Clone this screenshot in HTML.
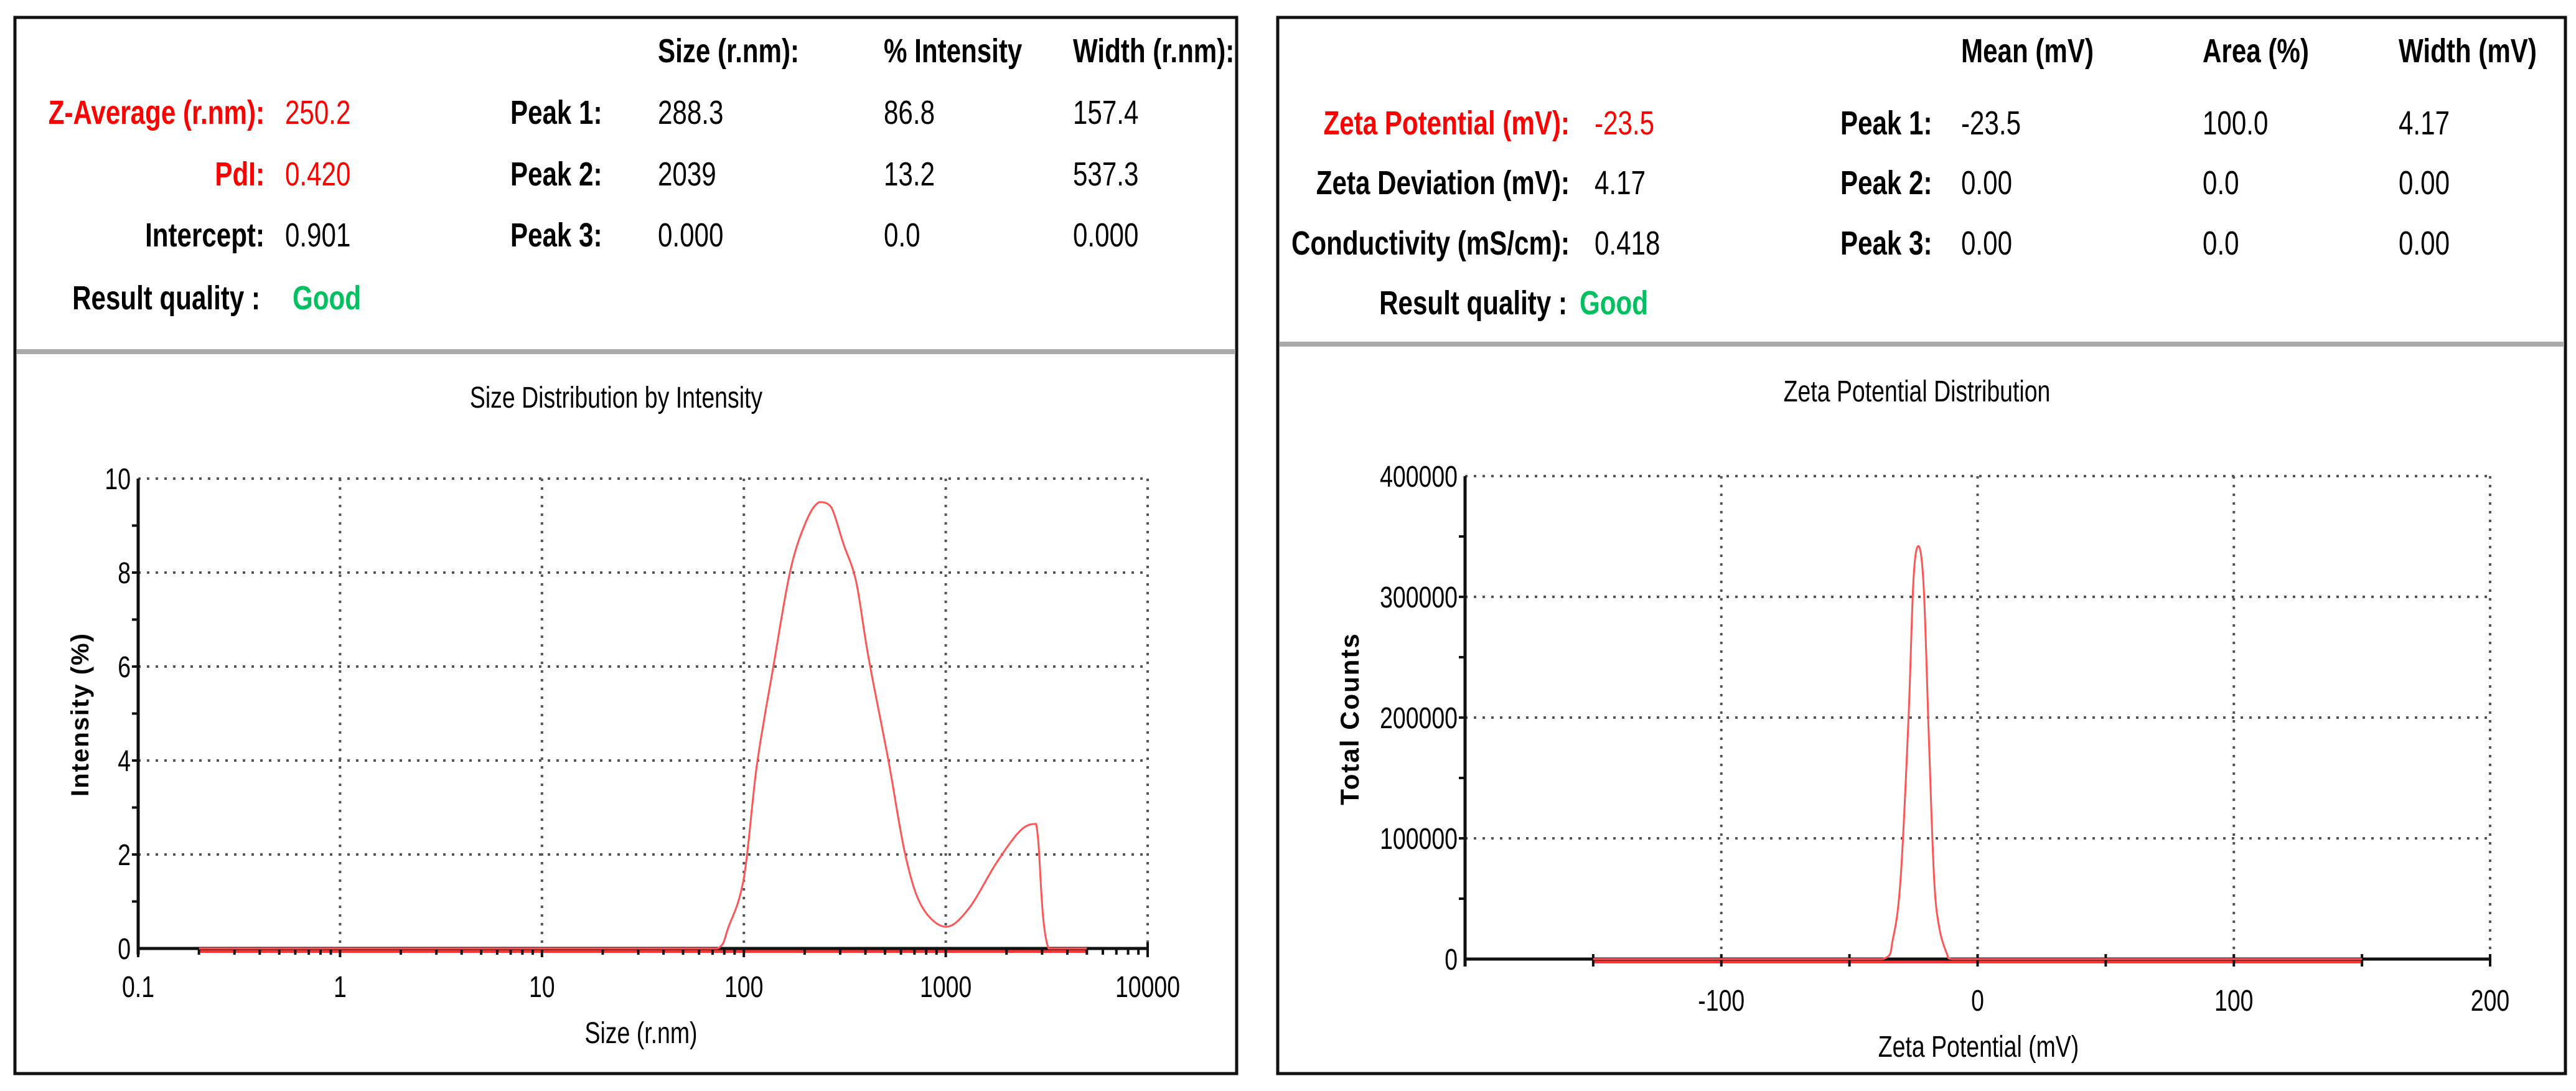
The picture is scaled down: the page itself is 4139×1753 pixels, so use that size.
<!DOCTYPE html>
<html><head><meta charset="utf-8"><style>
html,body{margin:0;padding:0;background:#fff;}
svg{display:block;font-family:"Liberation Sans",Arial,sans-serif;}
.b{font-weight:bold;}
</style></head><body>
<svg id="s" width="4139" height="1753" viewBox="0 0 4139 1753" xmlns="http://www.w3.org/2000/svg">
<rect x="0" y="0" width="4139" height="1753" fill="#fff"/>
<rect x="24" y="28" width="1963" height="1697" fill="none" stroke="#111" stroke-width="5"/>
<rect x="2053" y="28" width="2069" height="1697" fill="none" stroke="#111" stroke-width="5"/>
<rect x="27" y="561" width="1958" height="8" fill="#aaa"/>
<rect x="2056" y="549" width="2064" height="8" fill="#aaa"/>

<g font-size="54">
<text class="c b" x="1057" y="100">Size (r.nm):</text>
<text class="c b" x="1420" y="100">% Intensity</text>
<text class="c b" x="1724" y="100">Width (r.nm):</text>
<text class="c b" x="425" y="199" text-anchor="end" fill="#f00">Z-Average (r.nm):</text>
<text class="c" x="458" y="199" fill="#f00">250.2</text>
<text class="c b" x="425" y="298" text-anchor="end" fill="#f00">PdI:</text>
<text class="c" x="458" y="298" fill="#f00">0.420</text>
<text class="c b" x="425" y="396" text-anchor="end">Intercept:</text>
<text class="c" x="458" y="396">0.901</text>
<text class="c b" x="418" y="497" text-anchor="end">Result quality :</text>
<text class="c b" x="470" y="497" fill="#00c060">Good</text>
<text class="c b" x="820" y="199">Peak 1:</text>
<text class="c b" x="820" y="298">Peak 2:</text>
<text class="c b" x="820" y="396">Peak 3:</text>
<text class="c" x="1057" y="199">288.3</text>
<text class="c" x="1057" y="298">2039</text>
<text class="c" x="1057" y="396">0.000</text>
<text class="c" x="1420" y="199">86.8</text>
<text class="c" x="1420" y="298">13.2</text>
<text class="c" x="1420" y="396">0.0</text>
<text class="c" x="1724" y="199">157.4</text>
<text class="c" x="1724" y="298">537.3</text>
<text class="c" x="1724" y="396">0.000</text>
</g>

<g font-size="54">
<text class="c b" x="3151" y="100">Mean (mV)</text>
<text class="c b" x="3539" y="100">Area (%)</text>
<text class="c b" x="3854" y="100">Width (mV)</text>
<text class="c b" x="2522" y="216" text-anchor="end" fill="#f00">Zeta Potential (mV):</text>
<text class="c" x="2562" y="216" fill="#f00">-23.5</text>
<text class="c b" x="2522" y="312" text-anchor="end">Zeta Deviation (mV):</text>
<text class="c" x="2562" y="312">4.17</text>
<text class="c b" x="2522" y="409" text-anchor="end">Conductivity (mS/cm):</text>
<text class="c" x="2562" y="409">0.418</text>
<text class="c b" x="2518" y="505" text-anchor="end">Result quality :</text>
<text class="c b" x="2538" y="505" fill="#00c060">Good</text>
<text class="c b" x="2957" y="216">Peak 1:</text>
<text class="c b" x="2957" y="312">Peak 2:</text>
<text class="c b" x="2957" y="409">Peak 3:</text>
<text class="c" x="3151" y="216">-23.5</text>
<text class="c" x="3151" y="312">0.00</text>
<text class="c" x="3151" y="409">0.00</text>
<text class="c" x="3539" y="216">100.0</text>
<text class="c" x="3539" y="312">0.0</text>
<text class="c" x="3539" y="409">0.0</text>
<text class="c" x="3854" y="216">4.17</text>
<text class="c" x="3854" y="312">0.00</text>
<text class="c" x="3854" y="409">0.00</text>
</g>

<text class="c" x="990" y="655" font-size="48" text-anchor="middle">Size Distribution by Intensity</text>
<text class="c" x="1030" y="1676" font-size="48" text-anchor="middle">Size (r.nm)</text>
<text class="b" x="0" y="0" font-size="40" letter-spacing="2" text-anchor="middle" transform="translate(142,1148) rotate(-90)">Intensity (%)</text>
<text class="c" x="3080" y="645" font-size="48" text-anchor="middle">Zeta Potential Distribution</text>
<text class="c" x="3179" y="1698" font-size="48" text-anchor="middle">Zeta Potential (mV)</text>
<text class="b" x="0" y="0" font-size="42" letter-spacing="2" text-anchor="middle" transform="translate(2183,1155) rotate(-90)">Total Counts</text>
<g id="g1"></g>
<g id="g2"></g>
</svg>
<script>
// ---- Size distribution data ----
const sizeValues = [0.2, 1, 10, 50, 74, 84, 100, 116, 140, 170, 204, 236, 270, 312, 360, 414, 520, 630, 760, 1000, 1300, 1770, 2330, 2800, 3230, 5000];
const intensityValues = [0, 0, 0, 0, 0, 0.46, 1.5, 3.9, 6.0, 8.05, 9.1, 9.5, 9.4, 8.6, 7.8, 6.2, 4.0, 2.0, 0.9, 0.46, 0.85, 1.8, 2.5, 2.65, 0, 0];
const sizeXTicks = [0.1, 1, 10, 100, 1000, 10000];
const sizeXTickLabels = ["0.1", "1", "10", "100", "1000", "10000"];
const sizeYTicks = [0, 2, 4, 6, 8, 10];
const sizeYTickLabels = ["0", "2", "4", "6", "8", "10"];
// ---- Zeta potential data ----
const zetaValues = [-150, -37, -33, -30, -27, -25, -23, -21, -19, -17, -15, -12, -10, 150];
const countValues = [0, 0, 17000, 68000, 197000, 315000, 342000, 307000, 182000, 68000, 26500, 4500, 0, 0];
const zetaXTicks = [-100, 0, 100, 200];
const zetaXTickLabels = ["-100", "0", "100", "200"];
const zetaYTicks = [0, 100000, 200000, 300000, 400000];
const zetaYTickLabels = ["0", "100000", "200000", "300000", "400000"];

const NS = "http://www.w3.org/2000/svg";
function mk(parent, tag, attrs, txt) {
  const e = document.createElementNS(NS, tag);
  for (const k in attrs) e.setAttribute(k, attrs[k]);
  if (txt !== undefined) e.textContent = txt;
  parent.appendChild(e);
  return e;
}
const GRID = {stroke: "#555", "stroke-width": 4, "stroke-dasharray": "4 10", fill: "none"};
const clamp = (v, a, b) => Math.max(Math.min(a, b), Math.min(Math.max(a, b), v));

function smoothPath(P) {
  let d = `M${P[0][0].toFixed(1)} ${P[0][1].toFixed(1)}`;
  for (let i = 0; i < P.length - 1; i++) {
    const p0 = P[Math.max(0, i - 1)], p1 = P[i], p2 = P[i + 1], p3 = P[Math.min(P.length - 1, i + 2)];
    if (p1[1] === p2[1]) { d += `L${p2[0].toFixed(1)} ${p2[1].toFixed(1)}`; continue; }
    const c1x = clamp(p1[0] + (p2[0] - p0[0]) / 6, p1[0], p2[0]);
    const c1y = clamp(p1[1] + (p2[1] - p0[1]) / 6, p1[1], p2[1]);
    const c2x = clamp(p2[0] - (p3[0] - p1[0]) / 6, p1[0], p2[0]);
    const c2y = clamp(p2[1] - (p3[1] - p1[1]) / 6, p1[1], p2[1]);
    d += `C${c1x.toFixed(1)} ${c1y.toFixed(1)} ${c2x.toFixed(1)} ${c2y.toFixed(1)} ${p2[0].toFixed(1)} ${p2[1].toFixed(1)}`;
  }
  return d;
}

// ===== Chart 1 =====
(function () {
  const g = document.getElementById("g1");
  const L = 222, R = 1844, T = 769, B = 1524;
  const x = v => L + (Math.log10(v) + 1) * (R - L) / 5;
  const y = v => B - v * (B - T) / 10;
  sizeXTicks.forEach(t => {
    const l = mk(g, "line", Object.assign({x1: x(t), x2: x(t), y1: T, y2: B}, GRID));
    
    
  });
  sizeYTicks.forEach(t => {
    if (t === 0) return;
    const l = mk(g, "line", Object.assign({x1: L, x2: R, y1: y(t), y2: y(t)}, GRID));
    
    
  });
  const base = mk(g, "line", {x1: x(0.2), x2: x(5000), y1: B + 4, y2: B + 4, stroke: "#f33", "stroke-width": 6});
  
  
  const ax = mk(g, "path", {d: `M${L} ${T}V${B + 10}M${L} ${B}H${R}`, stroke: "#111", "stroke-width": 5, fill: "none"});
  
  
  let d = "";
  for (let dec = 0.1; dec < 10000; dec *= 10) {
    for (let m = 1; m < 10; m++) d += `M${x(dec * m)} ${B}v${m === 1 ? 14 : 10}`;
  }
  d += `M${R} ${B - 10}v24`;
  for (let v = 1; v < 10; v += 1) d += `M${L} ${y(v)}h-10`;
  const tk = mk(g, "path", {d: d, stroke: "#111", "stroke-width": 4});
  
  
  sizeXTicks.forEach((t, i) => {
    const e = mk(g, "text", {x: x(t), y: 1602, "font-size": 48, "text-anchor": "middle", class: "c"}, sizeXTickLabels[i]);
    
    
  });
  sizeYTicks.forEach((t, i) => {
    const e = mk(g, "text", {x: L - 12, y: y(t) + 17, "font-size": 48, "text-anchor": "end", class: "c"}, sizeYTickLabels[i]);
    
    
  });
  const P = sizeValues.map((s, i) => [x(s), y(intensityValues[i])]);
  const pl = mk(g, "path", {d: smoothPath(P), fill: "none", stroke: "#f55", "stroke-width": 3, "stroke-linejoin": "round"});
  
  
})();

// ===== Chart 2 =====
(function () {
  const g = document.getElementById("g2");
  const L = 2354, R = 4001, T = 765, B = 1541;
  const x = v => L + (v + 200) * (R - L) / 400;
  const y = v => B - v * (B - T) / 400000;
  zetaXTicks.forEach(t => {
    const l = mk(g, "line", Object.assign({x1: x(t), x2: x(t), y1: T, y2: B}, GRID));
    
    
  });
  zetaYTicks.forEach(t => {
    if (t === 0) return;
    const l = mk(g, "line", Object.assign({x1: L, x2: R, y1: y(t), y2: y(t)}, GRID));
    
    
  });
  const base = mk(g, "line", {x1: x(-150), x2: x(150), y1: B + 4, y2: B + 4, stroke: "#f33", "stroke-width": 6});
  
  
  const ax = mk(g, "path", {d: `M${L} ${T}V${B + 12}M${L} ${B}H${R}`, stroke: "#111", "stroke-width": 5, fill: "none"});
  
  
  let d = "";
  for (let v = -150; v <= 200; v += 50) d += `M${x(v)} ${B - 8}v20`;
  for (let v = 50000; v < 400000; v += 50000) d += `M${L} ${y(v)}h-10`;
  const tk = mk(g, "path", {d: d, stroke: "#111", "stroke-width": 4});
  
  
  zetaXTicks.forEach((t, i) => {
    const e = mk(g, "text", {x: x(t), y: 1624, "font-size": 48, "text-anchor": "middle", class: "c"}, zetaXTickLabels[i]);
    
    
  });
  zetaYTicks.forEach((t, i) => {
    const e = mk(g, "text", {x: L - 12, y: y(t) + 17, "font-size": 48, "text-anchor": "end", class: "c"}, zetaYTickLabels[i]);
    
    
  });
  const P = zetaValues.map((s, i) => [x(s), y(countValues[i])]);
  const pl = mk(g, "path", {d: smoothPath(P), fill: "none", stroke: "#f55", "stroke-width": 3, "stroke-linejoin": "round"});
  
  
})();

document.querySelectorAll("text.c").forEach(t => {
  const w = t.getComputedTextLength();
  if (w > 0) {
    t.setAttribute("textLength", (w * 0.78).toFixed(1));
    t.setAttribute("lengthAdjust", "spacingAndGlyphs");
  }
});
</script>
</body></html>
